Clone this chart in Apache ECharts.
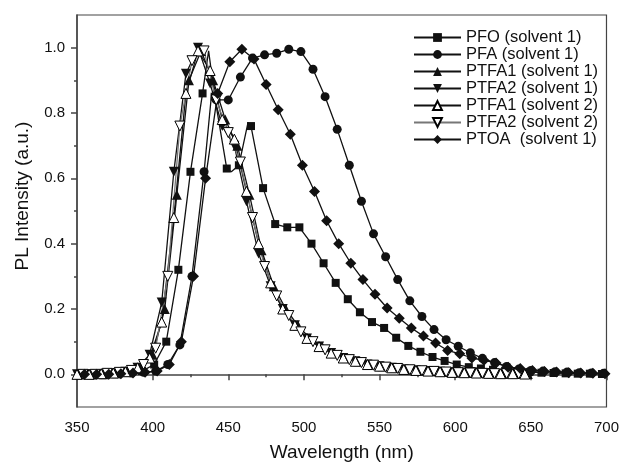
<!DOCTYPE html>
<html><head><meta charset="utf-8">
<script src="https://cdn.jsdelivr.net/npm/echarts@6/dist/echarts.min.js"></script>
<style>html,body{margin:0;padding:0;background:#fff}#c{width:622px;height:467px}</style>
</head><body><div id="c"></div>
<script>
// Tick labels
const xTicks = [350, 400, 450, 500, 550, 600, 650, 700];
const yTicks = [0, 0.2, 0.4, 0.6, 0.8, 1.0];
const yMinorTicks = [0.1, 0.3, 0.5, 0.7, 0.9];
const names = ['PFO (solvent 1)', 'PFA (solvent 1)', 'PTFA1 (solvent 1)', 'PTFA2 (solvent 1)', 'PTFA1 (solvent 2)', 'PTFA2 (solvent 2)', 'PTOA  (solvent 1)'];

// PFO (squares): marker points and extra line points
const pfoM = [[353,0],[361,0],[369,0],[377,0.002],[385,0.005],[393,0.01],[401,0.03],[409,0.1],[417,0.32],[425,0.62],[433,0.86],[441,0.85],[449,0.63],[457,0.64],[465,0.76],[473,0.57],[481,0.46],[489,0.45],[497,0.45],[505,0.4],[513,0.34],[521,0.28],[529,0.23],[537,0.19],[545,0.16],[553,0.142],[561,0.112],[569,0.087],[577,0.069],[585,0.053],[593,0.041],[601,0.03],[609,0.022],[617,0.018],[625,0.014],[633,0.011],[641,0.009],[649,0.007],[657,0.005],[665,0.004],[673,0.003],[681,0.002],[689,0.002],[697,0.001]];
const pfoE = [[437,0.99],[452,0.62],[463,0.77],[493,0.45]];

// PFA (circles)
const pfaM = [[354,0],[362,0],[370,0],[378,0.002],[386,0.004],[394,0.006],[402,0.01],[410,0.03],[418,0.09],[426,0.3],[434,0.62],[442,0.84],[450,0.84],[458,0.91],[466,0.968],[474,0.978],[482,0.983],[490,0.995],[498,0.988],[506,0.934],[514,0.85],[522,0.75],[530,0.64],[538,0.53],[546,0.43],[554,0.36],[562,0.29],[570,0.225],[578,0.177],[586,0.137],[594,0.106],[602,0.086],[610,0.066],[618,0.049],[626,0.036],[634,0.024],[642,0.016],[650,0.012],[658,0.01],[666,0.008],[674,0.007],[682,0.005],[690,0.004],[698,0.003]];
const pfaE = [[439,0.86]];

// PTFA1 solvent 1 (filled up triangles)
const ptfa11M = [[352,0],[360,0],[368,0],[376,0.003],[384,0.008],[392,0.02],[400,0.06],[408,0.2],[416,0.55],[424,0.9],[432,0.99],[440,0.9],[448,0.78],[456,0.7],[464,0.55],[472,0.38],[480,0.27],[488,0.2],[496,0.15],[504,0.11],[512,0.085],[520,0.065],[528,0.05],[536,0.04],[544,0.03],[552,0.025],[560,0.02],[568,0.015],[576,0.012],[584,0.01],[592,0.008],[600,0.006],[608,0.005],[616,0.004],[624,0.003],[632,0.002],[640,0.002],[648,0.001]];
const ptfa11E = [];

// PTFA2 solvent 1 (filled down triangles)
const ptfa21M = [[350,0],[358,0],[366,0],[374,0.003],[382,0.008],[390,0.02],[398,0.06],[406,0.22],[414,0.62],[422,0.92],[430,1.0],[438,0.89],[446,0.76],[454,0.7],[462,0.53],[470,0.37],[478,0.27],[486,0.2],[494,0.15],[502,0.11],[510,0.085],[518,0.065],[526,0.05],[534,0.04],[542,0.03],[550,0.025],[558,0.02],[566,0.015],[574,0.012],[582,0.01],[590,0.008],[598,0.006],[606,0.005],[614,0.004],[622,0.003],[630,0.002],[638,0.002],[646,0.001]];
const ptfa21E = [];

// PTFA1 solvent 2 (hollow up triangles)
const ptfa12M = [[350,0],[358,0],[366,0.002],[374,0.004],[382,0.008],[390,0.02],[398,0.05],[406,0.16],[414,0.48],[422,0.86],[430,0.99],[438,0.93],[446,0.78],[454,0.72],[462,0.56],[470,0.4],[478,0.28],[486,0.2],[494,0.15],[502,0.11],[510,0.085],[518,0.065],[526,0.05],[534,0.04],[542,0.03],[550,0.025],[558,0.02],[566,0.015],[574,0.012],[582,0.01],[590,0.008],[598,0.006],[606,0.005],[614,0.004],[622,0.003],[630,0.002],[638,0.002],[646,0.001]];
const ptfa12E = [];

// PTFA2 solvent 2 (hollow down triangles)
const ptfa22M = [[354,0],[362,0],[370,0.003],[378,0.006],[386,0.012],[394,0.03],[402,0.08],[410,0.3],[418,0.76],[426,0.96],[434,0.99],[442,0.84],[450,0.74],[458,0.65],[466,0.48],[474,0.33],[482,0.24],[490,0.18],[498,0.13],[506,0.1],[514,0.075],[522,0.058],[530,0.045],[538,0.036],[546,0.028],[554,0.022],[562,0.018],[570,0.014],[578,0.011],[586,0.009],[594,0.007],[602,0.005],[610,0.004],[618,0.003],[626,0.002],[634,0.002],[642,0.001]];
const ptfa22E = [];

// PTOA (diamonds)
const ptoaM = [[355,0],[363,0],[371,0],[379,0.002],[387,0.004],[395,0.006],[403,0.01],[411,0.03],[419,0.1],[427,0.3],[435,0.6],[443,0.86],[451,0.957],[459,0.995],[467,0.965],[475,0.887],[483,0.81],[491,0.735],[499,0.64],[507,0.56],[515,0.47],[523,0.4],[531,0.34],[539,0.29],[547,0.245],[555,0.203],[563,0.172],[571,0.142],[579,0.117],[587,0.096],[595,0.073],[603,0.063],[611,0.05],[619,0.043],[627,0.035],[635,0.022],[643,0.018],[651,0.012],[659,0.009],[667,0.007],[675,0.005],[683,0.004],[691,0.003],[699,0.002]];
const ptoaE = [];

const chart = echarts.init(document.getElementById('c'), null, {renderer: 'canvas'});

function makeSeries(name, markers, extras, symbol, rotate, size, fill, lineColor) {
  const all = markers.map(p => [p[0], p[1], 1]).concat(extras.map(p => [p[0], p[1], 0]));
  all.sort((a, b) => a[0] - b[0]);
  const flags = all.map(p => p[2]);
  return {
    name: name, type: 'line', data: all.map(p => [p[0], p[1]]),
    symbol: symbol, symbolRotate: rotate,
    symbolSize: (v, params) => flags[params.dataIndex] ? size : 0,
    showAllSymbol: true,
    itemStyle: {color: fill, borderColor: '#000', borderWidth: fill === '#fff' ? 1 : 0},
    lineStyle: {color: lineColor, width: 1.3},
    emphasis: {disabled: true},
    animation: false
  };
}

const ff = 'Liberation Sans, Arial, sans-serif';
const option = {
  animation: false,
  grid: {left: 77, right: 15, top: 15, bottom: 58, show: true, borderColor: '#444', borderWidth: 1.2},
  legend: {
    orient: 'vertical', left: 408, top: 24, itemWidth: 47, itemHeight: 11, itemGap: 0,
    textStyle: {fontFamily: ff, fontSize: 16.5, color: '#111', lineHeight: 17},
    data: names
  },
  xAxis: {
    type: 'value', min: 350, max: 700, interval: 50,
    name: 'Wavelength (nm)', nameLocation: 'middle', nameGap: 36,
    nameTextStyle: {fontFamily: ff, fontSize: 19, color: '#111'},
    axisLine: {lineStyle: {color: '#444', width: 1.5}},
    axisTick: {show: true, inside: false, length: 6, lineStyle: {color: '#444', width: 1.5}},
    minorTick: {show: true, splitNumber: 2, length: 3, lineStyle: {color: '#444', width: 1.5}},
    axisLabel: {fontFamily: ff, fontSize: 15, color: '#111', margin: 13, formatter: v => String(v)},
    splitLine: {show: false}
  },
  yAxis: [{
    type: 'value', min: -0.1, max: 1.1, interval: 0.1,
    name: 'PL Intensity (a.u.)', nameLocation: 'middle', nameGap: 45,
    nameTextStyle: {fontFamily: ff, fontSize: 19, color: '#111', padding: [0, 0, 0, 30]},
    axisLine: {show: true, lineStyle: {color: '#444', width: 1.5}},
    axisTick: {show: true, inside: false, length: 6, customValues: yTicks, lineStyle: {color: '#444', width: 1.5}},
    axisLabel: {fontFamily: ff, fontSize: 15, color: '#111', margin: 12, customValues: yTicks, formatter: v => v.toFixed(1)},
    splitLine: {show: false}
  }, {
    type: 'value', min: -0.1, max: 1.1, interval: 0.1, position: 'left',
    axisLine: {show: false},
    axisTick: {show: true, inside: false, length: 3, customValues: yMinorTicks, lineStyle: {color: '#444', width: 1.5}},
    axisLabel: {show: false},
    splitLine: {show: false}
  }],
  series: [
    makeSeries(names[0], pfoM, pfoE, 'rect', 0, 8, '#111', '#111'),
    makeSeries(names[1], pfaM, pfaE, 'circle', 0, 9, '#111', '#111'),
    makeSeries(names[2], ptfa11M, ptfa11E, 'triangle', 0, 10, '#111', '#111'),
    makeSeries(names[3], ptfa21M, ptfa21E, 'triangle', 180, 10, '#111', '#111'),
    makeSeries(names[4], ptfa12M, ptfa12E, 'triangle', 0, 10, '#fff', '#111'),
    makeSeries(names[5], ptfa22M, ptfa22E, 'triangle', 180, 10, '#fff', '#777'),
    makeSeries(names[6], ptoaM, ptoaE, 'diamond', 0, 11, '#111', '#111')
  ]
};
chart.setOption(option);
</script></body></html>
